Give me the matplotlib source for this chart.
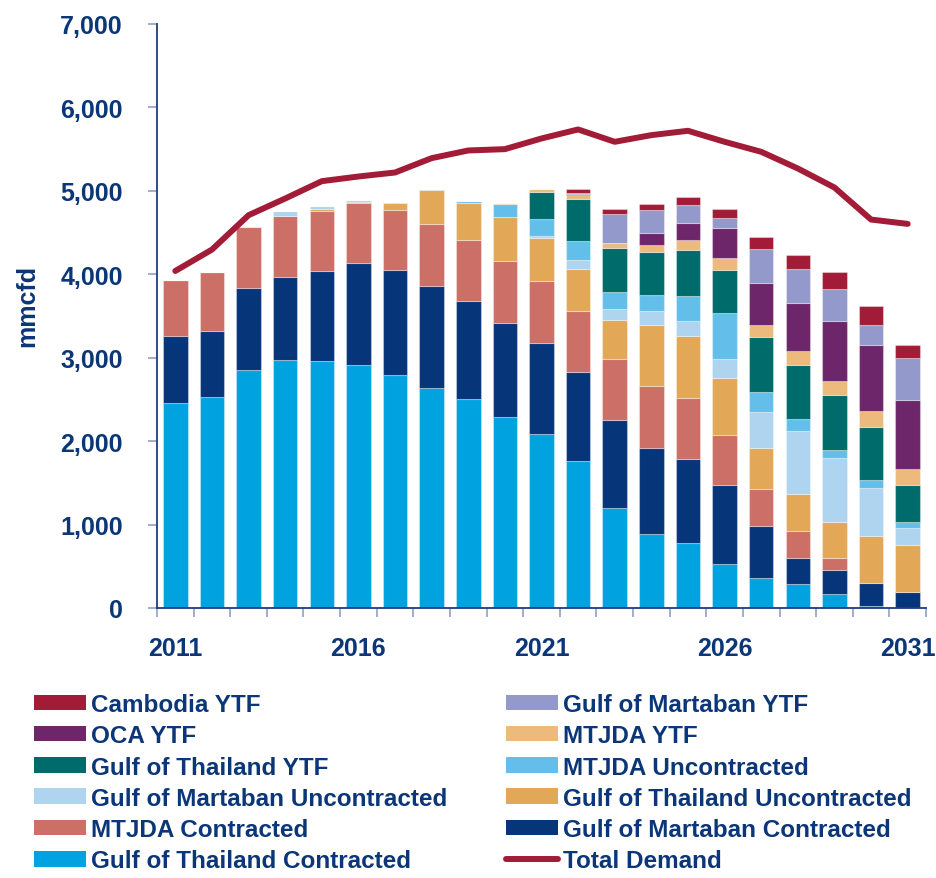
import matplotlib
matplotlib.use("Agg")
import matplotlib.pyplot as plt
from matplotlib.patches import Patch
from matplotlib.lines import Line2D
import numpy as np

years = list(range(2011, 2032))
xtick_years = ["2011", "2016", "2021", "2026", "2031"]
ytick_values = [0, 1000, 2000, 3000, 4000, 5000, 6000, 7000]
ytick_labels = ["0", "1,000", "2,000", "3,000", "4,000", "5,000", "6,000", "7,000"]

got_contracted = [2460, 2524, 2848, 2976, 2956, 2912, 2796, 2640, 2504, 2288, 2084,
                  1760, 1200, 892, 780, 528, 360, 292, 168, 24, 0]
gom_contracted = [796, 792, 992, 992, 1080, 1224, 1252, 1220, 1172, 1128, 1096,
                  1068, 1048, 1024, 1000, 948, 628, 312, 292, 280, 188]
mtjda_contracted = [680, 716, 724, 728, 720, 716, 720, 740, 740, 740, 736,
                    736, 740, 740, 736, 592, 436, 324, 144, 0, 0]
got_uncontracted = [0, 0, 0, 0, 24, 16, 84, 408, 436, 532, 520,
                    496, 468, 732, 748, 692, 488, 444, 432, 564, 572]
gom_uncontracted = [0, 0, 10, 64, 40, 20, 16, 16, 0, 0, 24,
                    116, 132, 176, 176, 228, 440, 752, 764, 576, 200]
mtjda_uncontracted = [0, 0, 0, 0, 0, 0, 0, 0, 32, 152, 208,
                      224, 200, 192, 304, 552, 236, 136, 96, 88, 76]
got_ytf = [0, 0, 0, 0, 0, 0, 0, 0, 0, 0, 320,
           500, 528, 512, 552, 508, 656, 656, 652, 640, 444]
mtjda_ytf = [0, 0, 0, 0, 0, 0, 0, 0, 0, 16, 40,
             56, 64, 80, 116, 152, 152, 164, 176, 188, 192]
oca_ytf = [0, 0, 0, 0, 0, 0, 0, 0, 0, 0, 0,
           8, 0, 144, 208, 356, 496, 572, 716, 796, 824]
gom_ytf = [0, 0, 0, 0, 0, 0, 0, 0, 0, 0, 0,
           16, 340, 280, 212, 116, 412, 408, 388, 232, 496]
cambodia_ytf = [0, 0, 0, 0, 0, 0, 0, 0, 0, 0, 0,
                48, 68, 76, 100, 116, 140, 172, 196, 228, 164]
total_demand = [4040, 4296, 4708, 4908, 5116, 5172, 5220, 5392, 5484, 5500, 5628,
                5736, 5588, 5668, 5720, 5588, 5468, 5268, 5040, 4656, 4604]

series = [
    ("Gulf of Thailand Contracted", got_contracted, "#00A3E0"),
    ("Gulf of Martaban Contracted", gom_contracted, "#06357A"),
    ("MTJDA Contracted", mtjda_contracted, "#CC6F66"),
    ("Gulf of Thailand Uncontracted", got_uncontracted, "#E2A857"),
    ("Gulf of Martaban Uncontracted", gom_uncontracted, "#AED4F0"),
    ("MTJDA Uncontracted", mtjda_uncontracted, "#63BFEA"),
    ("Gulf of Thailand YTF", got_ytf, "#006B6B"),
    ("MTJDA YTF", mtjda_ytf, "#EBBA7C"),
    ("OCA YTF", oca_ytf, "#6D266A"),
    ("Gulf of Martaban YTF", gom_ytf, "#9399CA"),
    ("Cambodia YTF", cambodia_ytf, "#A31C37"),
]
demand_color = "#A31C37"
navy = "#0B3677"
tick_color = "#8EA2C4"

fam = ["Liberation Sans", "DejaVu Sans"]
plt.rcParams["font.family"] = fam
plt.rcParams["font.weight"] = "bold"

fig = plt.figure(figsize=(9.36, 8.79), dpi=100)
ax = fig.add_axes([157 / 936, 1 - 609 / 879, (926 - 157) / 936, (609 - 25) / 879])

x = np.arange(len(years))
bottom = np.zeros(len(years))
handles = {}
for name, vals, col in series:
    v = np.array(vals, dtype=float)
    ax.bar(x, v, 0.67, bottom=bottom, color=col,
           edgecolor=(1, 1, 1, 0.35), linewidth=0.8, zorder=2)
    bottom += v
    handles[name] = Patch(facecolor=col, edgecolor="none")

ax.plot(x, total_demand, color=demand_color, lw=4.3, solid_capstyle="round",
        solid_joinstyle="round", zorder=3)
handles["Total Demand"] = Line2D([0], [0], color=demand_color, lw=4.3,
                                 solid_capstyle="round")

ax.set_xlim(-0.5, len(years) - 0.5)
ax.set_ylim(0, 7000)
ax.set_yticks(ytick_values)
ax.set_yticklabels(ytick_labels)
ax.set_xticks([years.index(int(y)) for y in xtick_years])
ax.set_xticklabels(xtick_years)
ax.set_xticks(np.arange(-0.5, len(years)), minor=True)
ax.tick_params(axis="x", which="major", length=0, pad=20, labelsize=18,
               labelcolor=navy)
ax.tick_params(axis="x", which="minor", length=6.5, width=1.2, color=tick_color)
ax.tick_params(axis="y", length=6.5, width=1.2, color=tick_color, pad=18,
               labelsize=18, labelcolor=navy)
for lab in ax.get_xticklabels() + ax.get_yticklabels():
    lab.set_fontweight("bold")

for s in ["top", "right"]:
    ax.spines[s].set_visible(False)
for s in ["left", "bottom"]:
    ax.spines[s].set_color("#1E3D7E")
    ax.spines[s].set_linewidth(1.3)

ax.set_ylabel("mmcfd", fontsize=18, fontweight="bold", color=navy)
ax.yaxis.set_label_coords((39 - 157) / 769, (609 - 306) / 584)

left_col = ["Cambodia YTF", "OCA YTF", "Gulf of Thailand YTF",
            "Gulf of Martaban Uncontracted", "MTJDA Contracted",
            "Gulf of Thailand Contracted"]
right_col = ["Gulf of Martaban YTF", "MTJDA YTF", "MTJDA Uncontracted",
             "Gulf of Thailand Uncontracted", "Gulf of Martaban Contracted",
             "Total Demand"]

leg_kw = dict(loc="upper left", frameon=False, handlelength=2.13,
              handleheight=0.61, handletextpad=0.2, labelspacing=0.34,
              borderpad=0, borderaxespad=0, labelcolor=navy,
              prop={"family": fam, "weight": "bold", "size": 17.5})
for col_names, x0 in ((left_col, 34), (right_col, 506)):
    fig.legend([handles[n] for n in col_names], col_names,
               bbox_to_anchor=(x0 / 936, 1 - 694 / 879), **leg_kw)

fig.savefig("out.png", dpi=100)
